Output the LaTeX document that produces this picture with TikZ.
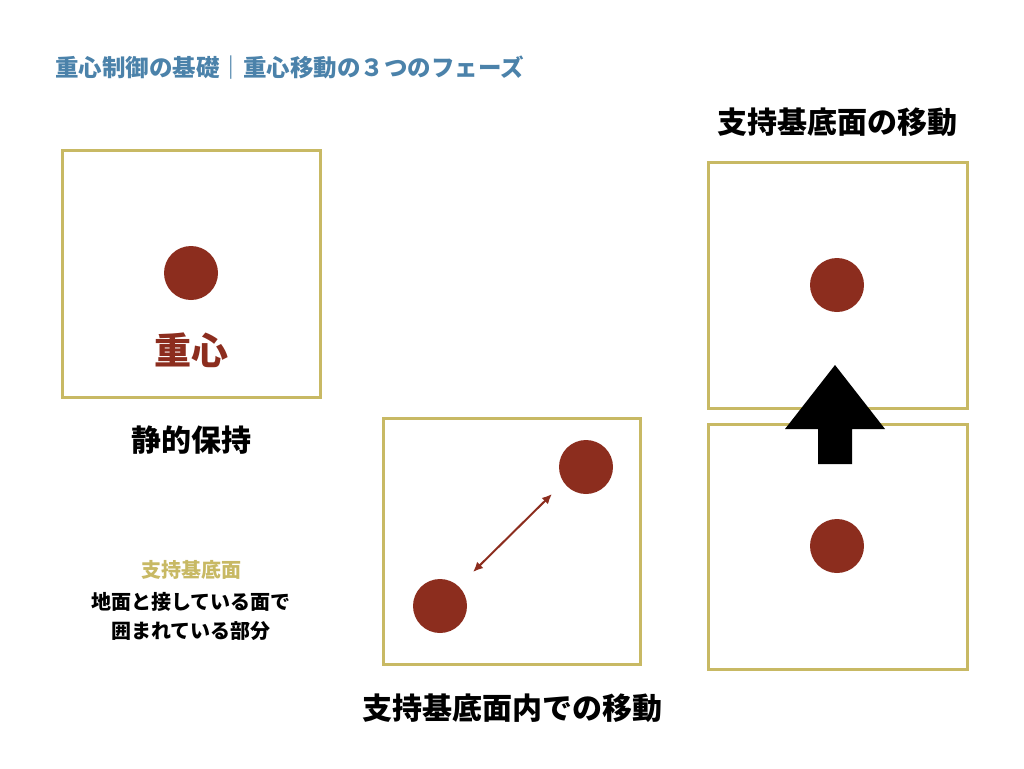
\documentclass[tikz,border=0pt]{standalone}
\usepackage{fontspec}
\usetikzlibrary{arrows.meta}
\newfontfamily\cjk{Noto Sans CJK JP}
\definecolor{olive}{RGB}{200,185,100}
\definecolor{dot}{RGB}{140,45,30}
\definecolor{ttl}{RGB}{75,130,170}
\tikzset{frame/.style={draw=olive,line width=3pt},
 dotc/.style={circle,fill=dot,minimum size=54pt,inner sep=0},
 lab/.style={font=\cjk\bfseries\fontsize{30}{34}\selectfont},
 small/.style={font=\cjk\bfseries\fontsize{20}{24}\selectfont}}
\begin{document}
\begin{tikzpicture}[x=1pt,y=-1pt]
\useasboundingbox (0,0) rectangle (1024,768);
\node[anchor=west,text=ttl,font=\cjk\bfseries\fontsize{23.5}{26}\selectfont,inner sep=0] (t) at (55,68) {重心制御の基礎｜重心移動の３つのフェーズ};
\draw[frame] (62,150) rectangle (320,397);
\node[dotc] (c1) at (191,273) {};
\node[text=dot,font=\cjk\bfseries\fontsize{37}{40}\selectfont] (g) at (191,350) {重心};
\node[lab] (l1) at (191,440) {静的保持};
\node[small,text=olive] (s1) at (191,570) {支持基底面};
\node[small] (s2) at (191,602) {地面と接している面で};
\node[small] (s3) at (191,631) {囲まれている部分};
\draw[frame] (383,418) rectangle (640,664);
\node[dotc] (c2) at (586,467) {};
\node[dotc] (c3) at (440,606) {};
\coordinate (a1) at (552,494);\coordinate (a2) at (473,572);
\draw[dot,line width=2pt,<->,>={Latex[length=10pt,width=9pt]}] (a1) -- (a2);
\node[lab] (l2) at (512,708) {支持基底面内での移動};
\node[lab] (l3) at (837,122) {支持基底面の移動};
\draw[frame] (708,162) rectangle (967,408);
\draw[frame] (708,424) rectangle (967,669);
\node[dotc] (c4) at (837,285) {};
\node[dotc] (c5) at (837,546) {};
\fill[black] (818,464) -- (818,429) -- (785,429) -- (835,365) -- (885,429) -- (852,429) -- (852,464) -- cycle;
\end{tikzpicture}
\end{document}
